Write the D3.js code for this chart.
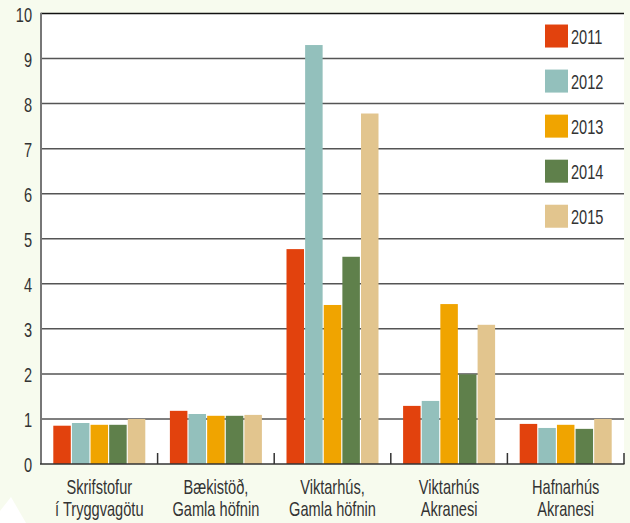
<!DOCTYPE html>
<html><head><meta charset="utf-8">
<script src="https://cdn.jsdelivr.net/npm/d3@7"></script>
<style>
html,body{margin:0;padding:0;background:#f7fbee;}
svg{display:block;}
text{font-family:"Liberation Sans",Arial,sans-serif;fill:#333;}
</style></head>
<body><svg id="c" width="630" height="523"></svg>
<script>
const categories = [["Skrifstofur","í Tryggvagötu"],["Bækistöð,","Gamla höfnin"],["Viktarhús,","Gamla höfnin"],["Viktarhús","Akranesi"],["Hafnarhús","Akranesi"]];
const series = ["2011","2012","2013","2014","2015"];
const colors = ["#e2420d","#93c0bc","#f0a400","#5f804b","#e2c58e"];
const v2011 = [0.85,1.18,4.77,1.29,0.89];
const v2012 = [0.91,1.11,9.30,1.40,0.80];
const v2013 = [0.87,1.07,3.53,3.55,0.87];
const v2014 = [0.87,1.07,4.60,1.99,0.78];
const v2015 = [1.00,1.09,7.78,3.09,1.00];
const yTicks = [0,1,2,3,4,5,6,7,8,9,10];
const values = [v2011,v2012,v2013,v2014,v2015];

const SX = 0.73, FS = 20;
const svg = d3.select("#c");
const L=41,R=624,T=13.5,B=464;
function label(parent, x, yy, str, anchor){
  const g = parent.append("g").attr("transform",`translate(${x},${yy}) scale(${SX},1)`);
  g.append("text").attr("text-anchor",anchor).attr("font-size",FS).text(str);
  return g;
}
// decorative triangle
svg.append("path").attr("d","M0,511 L11,497 L26,523 L0,523 Z").attr("fill","#ffffff");
svg.append("rect").attr("x",L).attr("y",T).attr("width",R-L).attr("height",B-T).attr("fill","#ffffff");

const y = d3.scaleLinear().domain([0,10]).range([B,T]);
const catIdx = categories.map((d,i)=>i);
const x0 = d3.scaleBand().domain(catIdx).range([L,R]);
const gw = 92;
const x1 = d3.scaleBand().domain(series).range([(x0.bandwidth()-gw)/2,(x0.bandwidth()+gw)/2]).paddingInner(0.06);

// gridlines
svg.append("g").selectAll("line").data(yTicks.filter(d=>d>0)).join("line")
 .attr("x1",L).attr("x2",R).attr("y1",d=>y(d)).attr("y2",d=>y(d))
 .attr("stroke",d=>d===10?"#111":"#555").attr("stroke-width",1.5);

// bars
const g = svg.append("g");
series.forEach((s,si)=>{
  g.append("g").selectAll("rect").data(values[si]).join("rect")
   .attr("x",(d,i)=>x0(i)+x1(s)).attr("width",x1.bandwidth())
   .attr("y",d=>y(d)).attr("height",d=>y(0)-y(d)).attr("fill",colors[si]);
});

// left axis line
svg.append("line").attr("x1",L).attr("x2",L).attr("y1",T-0.75).attr("y2",B).attr("stroke","#777").attr("stroke-width",2);
// bottom axis
svg.append("line").attr("x1",L-1).attr("x2",R+0.5).attr("y1",B).attr("y2",B).attr("stroke","#333").attr("stroke-width",1.6);
// category ticks
svg.append("g").selectAll("line").data(catIdx.slice(1).concat([5])).join("line")
 .attr("x1",d=>L+d*x0.step()).attr("x2",d=>L+d*x0.step()).attr("y1",B-11).attr("y2",B)
 .attr("stroke","#333").attr("stroke-width",1.5);

// y labels
const yl = svg.append("g");
yTicks.forEach(d=>label(yl,32,y(d)+8,d,"end"));

// x labels
const xl = svg.append("g");
categories.forEach((d,i)=>{
  const cx=x0(i)+x0.bandwidth()/2;
  label(xl,cx,494,d[0],"middle");
  label(xl,cx,516,d[1],"middle");
});

// legend
const lg = svg.append("g");
series.forEach((s,i)=>{
  const cy=(y(10-i)+y(9-i))/2;
  lg.append("rect").attr("x",545).attr("y",cy-11.5).attr("width",23).attr("height",23).attr("fill",colors[i]);
  label(lg,571,cy+7.5,s,"start");
});
</script></body></html>
